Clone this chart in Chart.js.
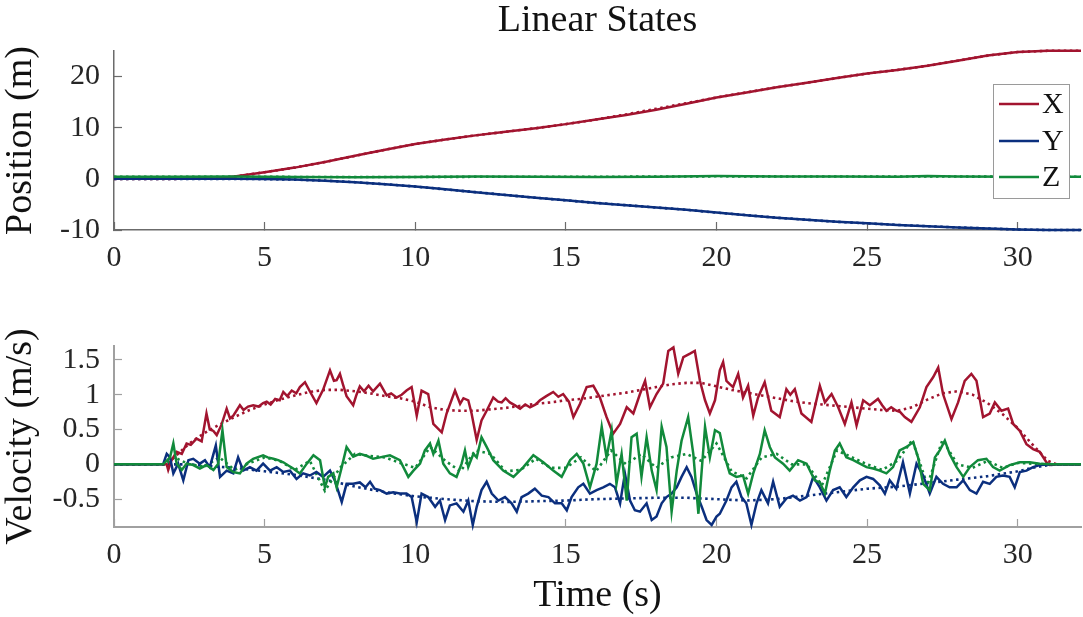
<!DOCTYPE html>
<html><head><meta charset="utf-8">
<script src="https://cdn.jsdelivr.net/npm/chart.js@4.4.1/dist/chart.umd.min.js"></script>
<style>
html,body{margin:0;padding:0;background:#fff;width:1083px;height:617px;overflow:hidden}
#wrapA{position:absolute;left:0;top:0;width:1083px;height:305px}
#wrapB{position:absolute;left:0;top:305px;width:1083px;height:312px}
canvas{display:block}
</style></head><body>
<div id="wrapA"><canvas id="pos" width="1083" height="305"></canvas></div>
<div id="wrapB"><canvas id="vel" width="1083" height="312"></canvas></div>
<script>
// ---------- data ([time s, value]) ----------
const seriesLabels = ['X', 'Y', 'Z'];
const titleText = 'Linear States';

const posX = [[0,0],[1,0],[2,0],[3,0.05],[3.5,0.1],[4,0.45],[5,1.3],[6,2.2],[7,3.3],[8,4.5],[9,5.7],[10,6.8],[11,7.7],[12,8.5],[13,9.2],[14,9.9],[15,10.7],[16,11.6],[17,12.5],[18,13.5],[19,14.7],[20,15.9],[21,16.9],[22,17.9],[23,18.8],[24,19.7],[25,20.6],[26,21.3],[27,22.1],[28,23.1],[29,24.1],[30,24.8],[31,25.05],[32.1,25.05]];
const posY = [[0,0],[1,0],[2,0],[3,0],[4,0],[5,-0.05],[6,-0.15],[7,-0.35],[8,-0.65],[9,-1.05],[10,-1.5],[11,-2.05],[12,-2.6],[13,-3.15],[14,-3.7],[15,-4.2],[16,-4.7],[17,-5.15],[18,-5.6],[19,-6.05],[20,-6.6],[21,-7.1],[22,-7.6],[23,-8.0],[24,-8.4],[25,-8.7],[26,-9.0],[27,-9.25],[28,-9.5],[29,-9.7],[30,-9.9],[31,-10.0],[32.1,-10.0]];
const posZ = [[0,0.4],[2,0.4],[4,0.45],[6,0.35],[8,0.3],[10,0.35],[12,0.45],[14,0.4],[16,0.35],[18,0.4],[20,0.55],[22,0.45],[24,0.45],[26,0.4],[27,0.55],[28,0.45],[30,0.4],[32.1,0.4]];
const posXRef = [[0,0],[1,0],[2,0],[3,0.05],[3.5,0.1],[4,0.45],[5,1.3],[6,2.2],[7,3.3],[8,4.5],[9,5.7],[10,6.8],[11,7.7],[12,8.5],[13,9.2],[14,9.9],[15,10.7],[16,11.6],[17,12.6],[18,13.7],[19,14.8],[20,15.9],[21,16.9],[22,17.9],[23,18.8],[24,19.7],[25,20.6],[26,21.3],[27,22.1],[28,23.1],[29,24.1],[30,24.8],[31,25.05],[32.1,25.05]];
const posYRef = [[0,0],[2,0],[4,0],[5,-0.05],[6,-0.15],[7,-0.35],[8,-0.65],[9,-1.05],[10,-1.5],[11,-2.05],[12,-2.6],[13,-3.15],[14,-3.7],[15,-4.2],[16,-4.7],[17,-5.15],[18,-5.6],[19,-6.05],[20,-6.6],[21,-7.1],[22,-7.6],[23,-8.0],[24,-8.4],[25,-8.7],[26,-9.0],[27,-9.25],[28,-9.5],[29,-9.7],[30,-9.9],[31,-10.0],[32.1,-10.0]];
const posZRef = [[0,0.4],[4,0.4],[8,0.35],[12,0.4],[16,0.4],[20,0.5],[24,0.45],[28,0.45],[32.1,0.4]];

const velX = [[0,0],[1.63,0],[1.75,0],[1.8,-0.08],[1.9,0.05],[2.08,0.18],[2.25,0.15],[2.41,0.30],[2.55,0.28],[2.74,0.37],[2.91,0.33],[3.07,0.73],[3.18,0.50],[3.3,0.48],[3.41,0.42],[3.57,0.57],[3.74,0.80],[3.85,0.66],[3.96,0.70],[4.08,0.78],[4.18,0.85],[4.3,0.78],[4.45,0.83],[4.62,0.85],[4.8,0.83],[4.95,0.88],[5.07,0.90],[5.2,0.86],[5.35,0.94],[5.5,0.92],[5.62,1.04],[5.75,0.98],[5.9,1.06],[6.05,1.02],[6.17,1.11],[6.34,1.18],[6.5,1.05],[6.72,0.88],[6.94,1.07],[7.17,1.35],[7.3,1.20],[7.39,1.21],[7.5,1.30],[7.6,1.15],[7.72,0.98],[7.94,0.85],[8.05,1.00],[8.16,1.12],[8.3,1.05],[8.45,1.13],[8.6,1.05],[8.83,1.16],[9.05,0.99],[9.2,1.02],[9.38,0.96],[9.55,1.00],[9.71,1.06],[9.88,1.11],[10.05,0.70],[10.21,1.06],[10.43,1.01],[10.6,0.58],[10.88,0.46],[11.04,0.73],[11.32,1.06],[11.49,0.87],[11.6,0.95],[11.76,0.92],[11.87,0.73],[12.04,0.35],[12.2,0.63],[12.37,0.77],[12.59,0.96],[12.75,0.90],[12.87,0.89],[13.0,0.95],[13.14,0.89],[13.3,0.85],[13.48,0.80],[13.65,0.86],[13.81,0.82],[14.0,0.86],[14.14,0.92],[14.35,0.98],[14.58,1.04],[14.75,0.97],[14.91,1.01],[15.1,0.90],[15.25,0.68],[15.47,0.87],[15.69,1.11],[15.91,1.13],[16.13,0.96],[16.35,0.68],[16.57,0.44],[16.8,0.58],[17.02,0.82],[17.24,0.73],[17.46,1.01],[17.63,1.20],[17.79,0.82],[18.01,1.01],[18.23,1.16],[18.4,1.63],[18.57,1.68],[18.73,1.30],[18.9,1.54],[19.12,1.59],[19.28,1.63],[19.45,1.20],[19.62,0.92],[19.78,0.73],[19.95,0.92],[20.11,1.35],[20.22,1.47],[20.33,1.20],[20.45,1.15],[20.55,1.11],[20.72,1.30],[20.88,0.96],[21.05,1.13],[21.22,0.70],[21.38,0.96],[21.6,1.18],[21.82,0.77],[22.1,0.68],[22.32,1.08],[22.45,1.00],[22.6,1.08],[22.82,0.73],[23.15,0.61],[23.43,1.13],[23.6,0.89],[23.82,1.01],[24.04,0.82],[24.26,0.58],[24.48,0.89],[24.65,0.56],[24.87,0.92],[25.09,0.85],[25.36,0.94],[25.5,0.85],[25.64,0.77],[25.8,0.82],[25.97,0.77],[26.1,0.75],[26.25,0.68],[26.47,0.61],[26.75,0.82],[26.97,1.11],[27.19,1.25],[27.36,1.39],[27.52,1.01],[27.8,0.65],[28.02,0.89],[28.24,1.20],[28.46,1.30],[28.63,1.20],[28.85,0.68],[29.07,0.73],[29.24,0.89],[29.46,0.77],[29.68,0.80],[29.85,0.58],[30.07,0.48],[30.29,0.29],[30.51,0.22],[30.73,0.18],[30.95,0.03],[31.06,-0.01],[31.3,0],[32.1,0]];
const velY = [[0,0],[1.63,0],[1.75,0.15],[1.86,0.10],[1.97,-0.13],[2.13,0.01],[2.3,-0.23],[2.47,0.06],[2.63,0.08],[2.85,0.01],[3.02,0.06],[3.18,-0.04],[3.38,0.27],[3.52,-0.18],[3.74,-0.09],[3.96,-0.13],[4.12,0.10],[4.29,-0.09],[4.51,-0.04],[4.73,-0.09],[4.95,0.01],[5.18,-0.09],[5.4,-0.04],[5.62,-0.11],[5.84,-0.09],[6.06,-0.21],[6.28,-0.13],[6.5,-0.16],[6.72,-0.11],[6.94,-0.18],[7.17,-0.09],[7.33,-0.23],[7.56,-0.54],[7.72,-0.28],[7.94,-0.28],[8.16,-0.26],[8.35,-0.33],[8.5,-0.25],[8.65,-0.35],[8.83,-0.37],[9.05,-0.42],[9.27,-0.40],[9.49,-0.42],[9.71,-0.42],[9.88,-0.47],[10.05,-0.83],[10.21,-0.42],[10.43,-0.47],[10.66,-0.61],[10.82,-0.52],[10.99,-0.80],[11.15,-0.59],[11.37,-0.56],[11.6,-0.68],[11.76,-0.52],[11.91,-0.87],[12.04,-0.61],[12.2,-0.37],[12.37,-0.25],[12.54,-0.42],[12.76,-0.52],[12.98,-0.47],[13.2,-0.56],[13.37,-0.68],[13.53,-0.47],[13.75,-0.42],[13.97,-0.35],[14.2,-0.45],[14.42,-0.47],[14.64,-0.56],[14.86,-0.56],[15.03,-0.66],[15.19,-0.47],[15.41,-0.33],[15.58,-0.28],[15.8,-0.42],[16.02,-0.37],[16.24,-0.33],[16.46,-0.28],[16.63,-0.33],[16.8,-0.56],[16.96,-0.13],[17.13,-0.52],[17.29,-0.66],[17.46,-0.68],[17.68,-0.56],[17.85,-0.80],[18.01,-0.75],[18.18,-0.56],[18.34,-0.47],[18.51,-0.42],[18.68,-0.33],[18.84,-0.18],[19.01,-0.04],[19.17,-0.18],[19.34,-0.42],[19.51,-0.61],[19.67,-0.80],[19.84,-0.87],[20.0,-0.75],[20.11,-0.71],[20.33,-0.52],[20.5,-0.33],[20.66,-0.25],[20.83,-0.47],[20.99,-0.56],[21.16,-0.87],[21.33,-0.56],[21.49,-0.37],[21.71,-0.56],[21.88,-0.25],[22.1,-0.61],[22.32,-0.49],[22.54,-0.45],[22.77,-0.52],[22.99,-0.47],[23.21,-0.18],[23.43,-0.33],[23.65,-0.52],[23.87,-0.37],[24.09,-0.33],[24.31,-0.47],[24.54,-0.33],[24.76,-0.23],[24.98,-0.18],[25.2,-0.21],[25.42,-0.30],[25.59,-0.42],[25.75,-0.23],[25.97,-0.35],[26.19,0.03],[26.42,-0.42],[26.64,0.01],[26.86,-0.16],[27.08,-0.42],[27.3,-0.18],[27.52,-0.28],[27.74,-0.33],[27.97,-0.33],[28.19,-0.23],[28.41,-0.37],[28.63,-0.42],[28.85,-0.25],[29.07,-0.28],[29.29,-0.18],[29.51,-0.16],[29.73,-0.18],[29.9,-0.33],[30.07,-0.11],[30.29,-0.09],[30.51,-0.04],[30.73,-0.01],[31.17,0],[32.1,0]];
const velZ = [[0,0],[1.63,0],[1.86,0.10],[1.97,0.30],[2.08,0.01],[2.25,-0.08],[2.41,0.01],[2.63,-0.01],[2.85,-0.06],[3.07,-0.01],[3.3,-0.08],[3.46,0.01],[3.6,0.49],[3.74,-0.04],[3.96,-0.11],[4.18,-0.13],[4.4,0.01],[4.62,0.08],[4.95,0.13],[5.1,0.10],[5.29,0.08],[5.45,0.06],[5.62,0.03],[5.8,-0.02],[5.95,-0.06],[6.17,-0.13],[6.4,0.01],[6.62,0.13],[6.84,0.06],[7.0,-0.33],[7.11,-0.18],[7.28,-0.13],[7.39,-0.33],[7.56,-0.04],[7.72,0.25],[7.94,0.11],[8.16,0.15],[8.4,0.12],[8.6,0.08],[8.83,0.10],[9.16,0.13],[9.49,0.06],[9.77,-0.18],[9.94,-0.09],[10.16,0.01],[10.32,0.20],[10.49,0.30],[10.6,0.15],[10.77,0.34],[10.93,0.01],[11.15,-0.13],[11.37,-0.18],[11.54,0.01],[11.65,0.20],[11.76,-0.04],[11.93,0.15],[12.04,0.10],[12.2,0.39],[12.37,0.25],[12.59,0.06],[12.92,-0.09],[13.26,-0.18],[13.59,-0.04],[13.92,0.13],[14.25,0.03],[14.58,-0.09],[14.86,-0.18],[15.14,0.06],[15.36,0.15],[15.58,0.01],[15.8,-0.33],[16.02,0.01],[16.19,0.54],[16.35,0.10],[16.52,0.49],[16.68,-0.28],[16.85,0.15],[17.02,-0.52],[17.18,0.39],[17.35,0.44],[17.51,-0.18],[17.68,0.39],[17.85,-0.09],[18.01,-0.37],[18.18,0.54],[18.34,0.25],[18.51,-0.68],[18.68,-0.09],[18.84,0.34],[19.06,0.68],[19.23,0.15],[19.4,-0.71],[19.62,0.54],[19.78,0.10],[19.95,0.49],[20.11,0.45],[20.28,0.10],[20.44,-0.13],[20.66,-0.18],[20.88,-0.16],[21.05,-0.42],[21.22,-0.13],[21.44,0.15],[21.6,0.49],[21.77,0.25],[21.94,0.10],[22.21,0.01],[22.43,-0.09],[22.71,0.06],[22.99,0.01],[23.26,-0.23],[23.43,-0.26],[23.6,-0.42],[23.76,-0.09],[23.93,0.20],[24.09,0.30],[24.31,0.10],[24.54,0.06],[24.76,0.01],[24.98,-0.04],[25.2,-0.06],[25.42,-0.09],[25.64,-0.13],[25.86,-0.04],[26.08,0.20],[26.31,0.25],[26.53,0.32],[26.69,0.10],[26.86,-0.28],[27.08,-0.37],[27.25,0.10],[27.41,0.20],[27.58,0.34],[27.74,0.15],[27.97,-0.04],[28.19,-0.18],[28.41,-0.04],[28.68,0.06],[28.96,0.08],[29.18,-0.04],[29.4,-0.09],[29.73,-0.01],[30.07,0.03],[30.4,0.03],[30.73,0.01],[31.17,0],[32.1,0]];

const velXRef = [[0,0],[1.7,0],[2,0.1],[2.5,0.3],[3,0.45],[3.5,0.57],[4,0.68],[4.5,0.78],[5,0.86],[5.5,0.93],[6,0.99],[6.5,1.04],[7,1.07],[7.5,1.07],[8,1.05],[8.5,1.02],[9,0.98],[9.5,0.95],[10,0.9],[10.5,0.82],[11,0.78],[11.5,0.77],[12,0.77],[12.5,0.79],[13,0.81],[13.5,0.84],[14,0.87],[14.5,0.89],[15,0.92],[15.5,0.94],[16,0.97],[16.5,1.0],[17,1.03],[17.5,1.07],[18,1.11],[18.5,1.15],[19,1.17],[19.5,1.17],[20,1.12],[20.5,1.07],[21,1.03],[21.5,0.99],[22,0.95],[22.5,0.91],[23,0.88],[23.5,0.86],[24,0.84],[24.5,0.82],[25,0.8],[25.5,0.78],[26,0.77],[26.5,0.82],[27,0.93],[27.5,1.02],[28,1.05],[28.5,1.0],[29,0.88],[29.5,0.72],[30,0.52],[30.5,0.28],[31,0.05],[31.3,0],[32.1,0]];
const velYRef = [[0,0],[1.7,0],[2.5,0],[3,-0.02],[4,-0.05],[5,-0.1],[6,-0.15],[7,-0.22],[8,-0.32],[9,-0.4],[10,-0.46],[11,-0.5],[12,-0.53],[13,-0.54],[14,-0.53],[15,-0.52],[16,-0.5],[17,-0.49],[18,-0.48],[19,-0.48],[20,-0.5],[21,-0.52],[22,-0.5],[23,-0.45],[24,-0.4],[25,-0.35],[26,-0.32],[27,-0.27],[28,-0.22],[29,-0.17],[30,-0.1],[30.5,-0.05],[31,-0.01],[31.5,0],[32.1,0]];
const velZRef = [[0,0],[1.7,0],[2,0.1],[2.5,0],[3,-0.03],[3.5,0.1],[4,-0.08],[4.5,0.02],[5,0.1],[5.5,0.05],[6,-0.08],[6.5,0.05],[7,-0.38],[7.5,-0.05],[8,0.15],[8.5,0.12],[9,0.1],[9.5,0.02],[10,-0.05],[10.5,0.25],[11,0.05],[11.5,-0.1],[12,0.2],[12.5,0.15],[13,-0.1],[13.5,-0.08],[14,0.08],[14.5,-0.05],[15,-0.05],[15.5,0.1],[16,-0.1],[16.5,0.2],[17,0.0],[17.5,0.15],[18,-0.05],[18.5,0.1],[19,0.15],[19.5,0.05],[20,0.3],[20.5,-0.1],[21,-0.2],[21.5,0.1],[22,0.15],[22.5,0.0],[23,0.0],[23.5,-0.3],[24,0.2],[24.5,0.1],[25,0.0],[25.5,-0.08],[26,0.05],[26.5,0.35],[27,-0.3],[27.5,0.35],[28,0.0],[28.5,-0.05],[29,0.05],[29.5,-0.05],[30,0.02],[31,0],[32.1,0]];

const xTicksStep = 5, xMax = 32.1;
const posRange = [-10, 25], posStep = 10;
const velRange = [-0.9, 1.7], velStep = 0.5;

// ---------- style ----------
const FONT = "'Liberation Serif', serif";
const COLORS = ['#A2142F', '#0B2F7E', '#118A3B'];
const pts = a => a.map(([x, y]) => ({x, y}));

function makeSets(meas, refs) {
  const sets = [];
  // dataset 0 is drawn last (on top): solid Z, Y, X above the dotted references
  for (let i = 2; i >= 0; i--) sets.push({label: seriesLabels[i], data: pts(meas[i]), borderColor: COLORS[i], borderWidth: 2.5, pointRadius: 0, tension: 0, clip: false});
  for (let i = 2; i >= 0; i--) sets.push({label: seriesLabels[i] + ' ref', data: pts(refs[i]), borderColor: COLORS[i], borderWidth: 2.6, borderDash: [2.5, 3.5], pointRadius: 0, tension: 0, clip: false});
  return sets;
}

function xAxis(axisColor, axisWidth, height, withTitle) {
  return {
    type: 'linear', min: 0, max: xMax,
    border: {display: true, color: axisColor, width: axisWidth},
    grid: {drawOnChartArea: false, drawTicks: true, tickLength: -8, tickColor: axisColor, tickWidth: 1.2},
    ticks: {stepSize: xTicksStep, includeBounds: false, padding: 18, maxRotation: 0, autoSkip: false,
            color: '#262626', font: {family: FONT, size: 30}, callback: v => String(v)},
    title: withTitle ? {display: true, text: 'Time (s)', color: '#111', font: {family: FONT, size: 38, lineHeight: 1.1}, padding: {top: 0, bottom: 0}} : {display: false},
    afterFit: s => { s.height = height; }
  };
}
function yAxis(range, step, axisColor, axisWidth, label) {
  return {
    type: 'linear', min: range[0], max: range[1],
    border: {display: true, color: axisColor, width: axisWidth},
    grid: {drawOnChartArea: false, drawTicks: true, tickLength: -8, tickColor: axisColor, tickWidth: 1.2},
    ticks: {stepSize: step, includeBounds: false, padding: 22, color: '#262626', font: {family: FONT, size: 30}, callback: v => String(v)},
    title: {display: true, text: label, color: '#111', font: {family: FONT, size: 38, lineHeight: 1.1}, padding: {top: 0, bottom: 0}},
    afterFit: s => { s.width = 114; }
  };
}

const boxLegend = {
  id: 'boxLegend',
  afterDatasetsDraw(chart) {
    const ctx = chart.ctx, ca = chart.chartArea;
    const w = 76, h = 114;
    const left = ca.right - 12 - w, top = ca.top + 33;
    ctx.save();
    ctx.fillStyle = '#fff';
    ctx.fillRect(left, top, w, h);
    ctx.strokeStyle = '#9a9a9a';
    ctx.lineWidth = 1;
    ctx.strokeRect(left + 0.5, top + 0.5, w, h);
    const rows = [20, 57, 93];
    ctx.font = '30px ' + FONT;
    ctx.textBaseline = 'middle';
    ctx.textAlign = 'left';
    for (let i = 0; i < 3; i++) {
      const y = top + rows[i];
      ctx.strokeStyle = COLORS[i];
      ctx.lineWidth = 2.6;
      ctx.beginPath(); ctx.moveTo(left + 6, y); ctx.lineTo(left + 46, y); ctx.stroke();
      ctx.fillStyle = '#111';
      ctx.fillText(seriesLabels[i], left + 49, y + 1);
    }
    ctx.restore();
  }
};

Chart.defaults.font.family = FONT;
new Chart(document.getElementById('pos'), {
  type: 'line',
  data: {datasets: makeSets([posX, posY, posZ], [posXRef, posYRef, posZRef])},
  options: {
    responsive: false, animation: false,
    layout: {padding: {left: 0, right: 2, top: 0, bottom: 0}},
    plugins: {
      legend: {display: false}, tooltip: {enabled: false},
      title: {display: true, text: titleText, fullSize: false, color: '#111', font: {family: FONT, size: 38, weight: 'normal', lineHeight: 1.1}, padding: {top: 0, bottom: 9.2}}
    },
    scales: {
      x: xAxis('#6b6b6b', 1.5, 75, false),
      y: yAxis(posRange, posStep, '#6b6b6b', 1.5, 'Position (m)')
    }
  },
  plugins: [boxLegend]
});
new Chart(document.getElementById('vel'), {
  type: 'line',
  data: {datasets: makeSets([velX, velY, velZ], [velXRef, velYRef, velZRef])},
  options: {
    responsive: false, animation: false,
    layout: {padding: {left: 0, right: 2, top: 41, bottom: 0}},
    plugins: {legend: {display: false}, tooltip: {enabled: false}},
    scales: {
      x: xAxis('#a0a0a0', 2, 90, true),
      y: yAxis(velRange, velStep, '#a0a0a0', 2, 'Velocity (m/s)')
    }
  }
});
</script>
</body></html>
